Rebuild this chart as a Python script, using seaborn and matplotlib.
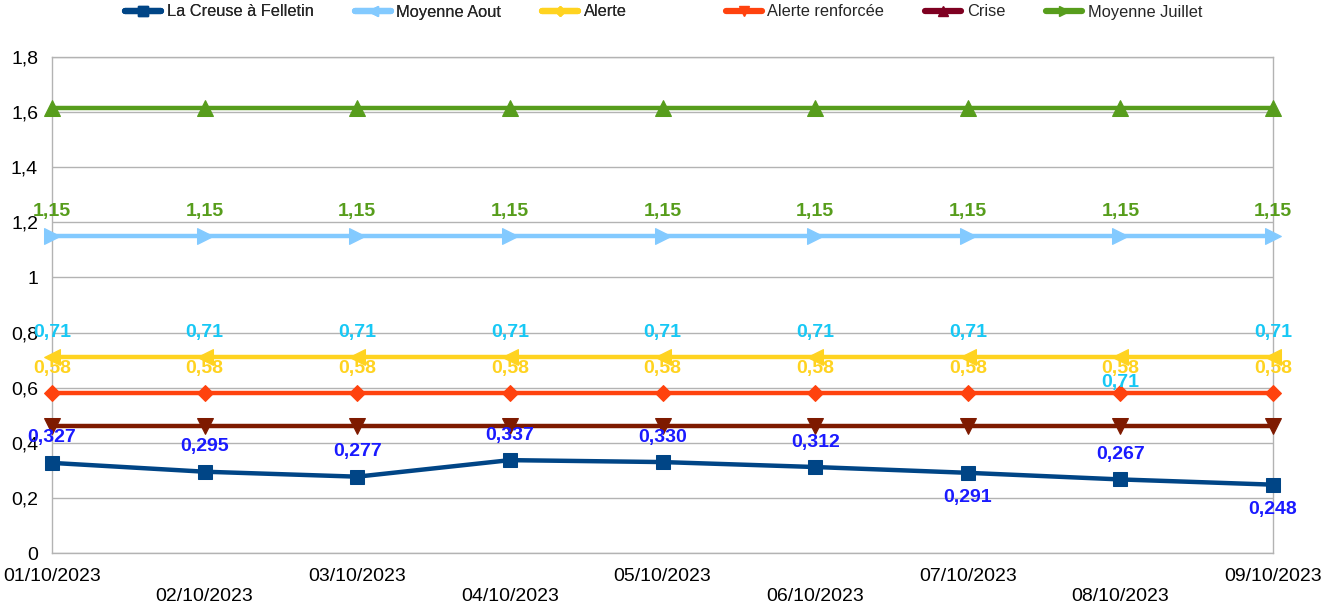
import matplotlib
matplotlib.use("Agg")
import matplotlib.pyplot as plt
from matplotlib.lines import Line2D
import seaborn as sns
import pandas as pd

dates = ["01/10/2023", "02/10/2023", "03/10/2023", "04/10/2023", "05/10/2023",
         "06/10/2023", "07/10/2023", "08/10/2023", "09/10/2023"]
creuse = [0.327, 0.295, 0.277, 0.337, 0.330, 0.312, 0.291, 0.267, 0.248]
moy_aout = [1.15, 1.15, 1.15, 1.15, 1.15, 1.15, 1.15, 1.15, 1.15]
alerte = [0.71, 0.71, 0.71, 0.71, 0.71, 0.71, 0.71, 0.71, 0.71]
alerte_renf = [0.58, 0.58, 0.58, 0.58, 0.58, 0.58, 0.58, 0.58, 0.58]
crise = [0.46, 0.46, 0.46, 0.46, 0.46, 0.46, 0.46, 0.46, 0.46]
moy_juillet = [1.615, 1.615, 1.615, 1.615, 1.615, 1.615, 1.615, 1.615, 1.615]
y_ticks = [0, 0.2, 0.4, 0.6, 0.8, 1.0, 1.2, 1.4, 1.6, 1.8]
y_tick_labels = ["0", "0,2", "0,4", "0,6", "0,8", "1", "1,2", "1,4", "1,6", "1,8"]

sns.set_style("white")
plt.rcParams['font.family'] = ['Liberation Sans', 'DejaVu Sans']

fig = plt.figure(figsize=(13.26, 6.16), dpi=100)
ax = fig.add_axes([52/1326, 63/616, (1273-52)/1326, (553-57)/616])

x = list(range(len(dates)))
df = pd.DataFrame({"x": x, "creuse": creuse, "aout": moy_aout, "alerte": alerte,
                   "renf": alerte_renf, "crise": crise, "juillet": moy_juillet})

C_CREUSE = "#004586"
C_AOUT = "#83CAFF"
C_ALERTE = "#FFD320"
C_RENF = "#FF420E"
C_CRISE_LINE = "#7E1A00"
C_CRISE_LEG = "#7E0021"
C_JUIL = "#579D1C"

series = [
    ("juillet", C_JUIL, "^", 11),
    ("crise", C_CRISE_LINE, "v", 11),
    ("renf", C_RENF, "D", 8.5),
    ("alerte", C_ALERTE, "<", 11),
    ("aout", C_AOUT, ">", 11),
    ("creuse", C_CREUSE, "s", 10),
]
for col, c, m, ms in series:
    sns.lineplot(data=df, x="x", y=col, ax=ax, color=c, marker=m, markersize=ms,
                 markeredgecolor=c, linewidth=3.2, clip_on=False, zorder=3)

def labels(vals, color, fmt, below=()):
    for i, v in enumerate(vals):
        off = -18 if i in below else 18
        ax.annotate(fmt.format(v).replace(".", ","),
                    (x[i], v), xytext=(0, off), textcoords="offset points",
                    ha="center", va="center", color=color, fontsize=14,
                    fontweight="bold", zorder=5, annotation_clip=False)

labels(creuse, "#1a1aff", "{:.3f}", below=(6, 8))
labels(moy_aout, C_JUIL, "{:.2f}")
labels(alerte, "#17C8F5", "{:.2f}", below=(7,))
labels(alerte_renf, C_ALERTE, "{:.2f}")

ax.set_xlim(0, 8)
ax.set_ylim(0, 1.8)
ax.set_yticks(y_ticks)
ax.set_yticklabels(y_tick_labels)
ax.set_xticks(x)
ax.set_xticklabels([d if i % 2 == 0 else "\n" + d for i, d in enumerate(dates)])
ax.set_xlabel("")
ax.set_ylabel("")
ax.grid(axis="y", color="#b3b3b3", linewidth=1)
ax.grid(axis="x", visible=False)
for s in ax.spines.values():
    s.set_color("#b3b3b3")
    s.set_linewidth(1)
ax.tick_params(axis="both", which="major", length=7, width=1, color="#b3b3b3",
               labelsize=14, labelcolor="black", direction="out")
ax.tick_params(axis="x", pad=4)
ax.tick_params(axis="y", pad=3)
ax.set_axisbelow(True)

def h(c, m, ms):
    return Line2D([], [], color=c, marker=m, markersize=ms, markeredgecolor=c, linewidth=4.5)

common = dict(loc="center", ncol=3, frameon=False, fontsize=11.8, handlelength=2.2,
              handletextpad=0.35, columnspacing=2.5, borderpad=0, borderaxespad=0)
leg1 = fig.legend([h(C_CREUSE, "s", 7), h(C_AOUT, "<", 7), h(C_ALERTE, "D", 5)],
                  ["La Creuse à Felletin", "Moyenne Aout", "Alerte"],
                  bbox_to_anchor=(376/1326, 1 - 12/616), **common)
leg2 = fig.legend([h(C_RENF, "v", 7), h(C_CRISE_LEG, "^", 7), h(C_JUIL, ">", 7)],
                  ["Alerte renforcée", "Crise", "Moyenne Juillet"],
                  bbox_to_anchor=(964/1326, 1 - 12/616), **common)
fig.add_artist(leg1)

fig.savefig("out.png", dpi=100)
